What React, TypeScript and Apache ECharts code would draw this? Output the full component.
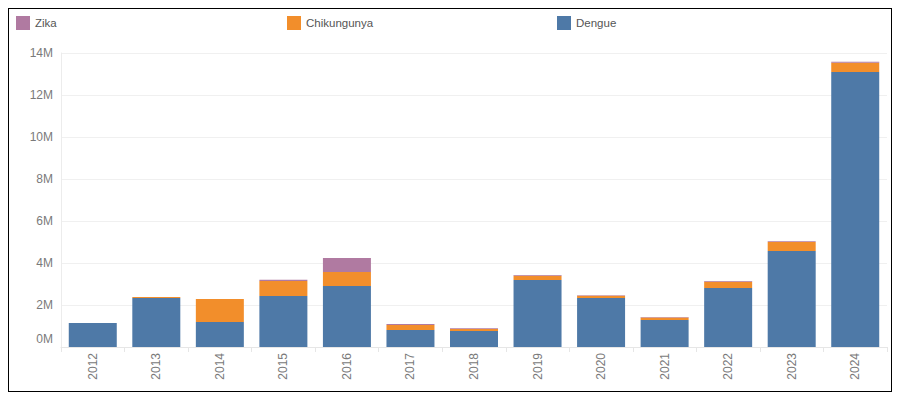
import React, { useEffect, useRef } from "react";
import * as echarts from "echarts";

const years = ["2012", "2013", "2014", "2015", "2016", "2017", "2018", "2019", "2020", "2021", "2022", "2023", "2024"];
const dengue = [1140000, 2330000, 1190000, 2430000, 2900000, 810000, 760000, 3190000, 2330000, 1290000, 2810000, 4570000, 13100000];
const chikungunya = [0, 50000, 1100000, 710000, 670000, 240000, 100000, 200000, 110000, 110000, 300000, 430000, 430000];
const zika = [0, 0, 0, 60000, 670000, 40000, 30000, 40000, 30000, 30000, 30000, 40000, 50000];

const FONT = "'Liberation Sans', Arial, sans-serif";
const LABEL = "#7a7a7a";

export default function App() {
  const ref = useRef<HTMLDivElement>(null);
  useEffect(() => {
    if (!ref.current) return;
    const chart = echarts.init(ref.current, undefined, { renderer: "svg" });
    const legendBase = {
      top: 7,
      padding: 0,
      icon: "rect",
      itemWidth: 14,
      itemHeight: 14,
      itemGap: 5,
      textStyle: { color: "#555555", fontSize: 11.5, fontFamily: FONT },
    };
    chart.setOption({
      animation: false,
      textStyle: { fontFamily: FONT },
      legend: [
        { ...legendBase, left: 7, data: ["Zika"] },
        { ...legendBase, left: 278, data: ["Chikungunya"] },
        { ...legendBase, left: 548, data: ["Dengue"] },
      ],
      grid: { left: 52, right: 4, top: 44, bottom: 44, containLabel: false },
      xAxis: {
        type: "category",
        data: years,
        axisLine: { show: true, lineStyle: { color: "#e6e6e6" } },
        axisTick: { show: true, alignWithLabel: false, length: 5, lineStyle: { color: "#e6e6e6" } },
        axisLabel: { rotate: 90, margin: 6, color: LABEL, fontSize: 12, fontFamily: FONT },
      },
      yAxis: {
        type: "value",
        min: 0,
        max: 14000000,
        interval: 2000000,
        axisLine: { show: true, lineStyle: { color: "#ececec" } },
        axisTick: { show: false },
        splitLine: { show: true, lineStyle: { color: "#f0f0f0" } },
        axisLabel: {
          margin: 8,
          color: LABEL,
          fontSize: 12,
          fontFamily: FONT,
          formatter: (v: number) => (v === 0 ? "{z|0M}" : v / 1000000 + "M"),
          rich: { z: { color: LABEL, fontSize: 12, fontFamily: FONT, padding: [0, 0, 16, 0] } },
        },
      },
      series: [
        { name: "Dengue", type: "bar", stack: "t", data: dengue, barWidth: 48, itemStyle: { color: "#4e79a7" } },
        { name: "Chikungunya", type: "bar", stack: "t", data: chikungunya, barWidth: 48, itemStyle: { color: "#f28e2b" } },
        { name: "Zika", type: "bar", stack: "t", data: zika, barWidth: 48, itemStyle: { color: "#b07aa1" } },
      ],
    });
    return () => chart.dispose();
  }, []);
  return (
    <div
      ref={ref}
      style={{ width: 884, height: 384, border: "1px solid #000", boxSizing: "border-box", background: "#fff" }}
    />
  );
}
